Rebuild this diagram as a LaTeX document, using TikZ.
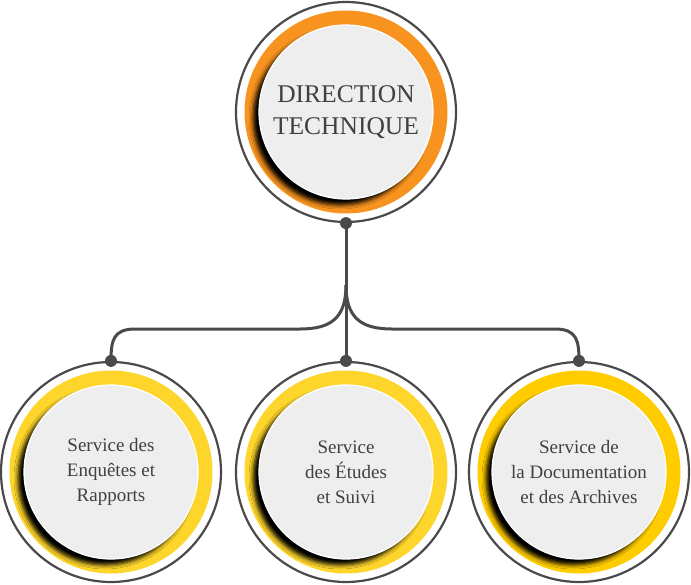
\documentclass[tikz,border=0pt]{standalone}
\usepackage{fontspec}
\setmainfont{Liberation Serif}
\usetikzlibrary{shadows.blur}
\definecolor{linegray}{HTML}{4A4A4A}
\definecolor{discgray}{HTML}{EEEEEE}
\definecolor{textgray}{HTML}{404040}
\definecolor{headorange}{HTML}{F7931E}
\definecolor{unityellow}{HTML}{FDD52B}
\definecolor{unitgold}{HTML}{FFCC00}

\begin{document}
\begin{tikzpicture}[x=1pt,y=-1pt,
  frame/.style={circle,draw=linegray,line width=2.2pt,fill=white,minimum size=220pt,inner sep=0pt},
  ring/.style={circle,fill=#1,minimum size=203pt,inner sep=0pt},
  disc/.style={circle,fill=discgray,draw=white,line width=1.2pt,minimum size=174pt,inner sep=0pt,
    align=center,text=textgray,font=\fontsize{19}{25}\selectfont,
    blur shadow={shadow xshift=-6pt,shadow yshift=-6pt,shadow blur radius=4pt,shadow opacity=100}},
  link/.style={draw=linegray,line width=3pt},
  dot/.style={circle,fill=linegray,inner sep=0pt,minimum size=12pt}]
\useasboundingbox (0,0) rectangle (691,584);

% head
\node[frame] (headout) at (346,112) {};
\node[ring=headorange] (headring) at (346,112) {};
\node[disc,font=\fontsize{25.5}{32}\selectfont] (head) at (346,112) {DIRECTION\\TECHNIQUE};

% units
\node[frame] (unitAout) at (111,472) {};
\node[ring=unityellow] (unitAring) at (111,472) {};
\node[disc] (unitA) at (111,472) {Service des\\Enquêtes et\\Rapports};

\node[frame] (unitBout) at (346,472) {};
\node[ring=unityellow] (unitBring) at (346,472) {};
\node[disc] (unitB) at (346,472) {Service\\des Études\\et Suivi};

\node[frame] (unitCout) at (579,472) {};
\node[ring=unitgold] (unitCring) at (579,472) {};
\node[disc] (unitC) at (579,472) {Service de\\la Documentation\\et des Archives};

% links
\coordinate (fork) at (346,285);
\draw[link] (headout.south) -- (fork) -- (unitBout.north);
\draw[link] (fork) .. controls +(0,32) and +(32,0) .. (300,329) -- (135,329)
  .. controls +(-22,0) and +(0,-20) .. (unitAout.north);
\draw[link] (fork) .. controls +(0,32) and +(-32,0) .. (392,329) -- (555,329)
  .. controls +(22,0) and +(0,-20) .. (unitCout.north);

\node[dot] (headdot) at (headout.south) {};
\node[dot] (unitAdot) at (unitAout.north) {};
\node[dot] (unitBdot) at (unitBout.north) {};
\node[dot] (unitCdot) at (unitCout.north) {};
\end{tikzpicture}
\end{document}
